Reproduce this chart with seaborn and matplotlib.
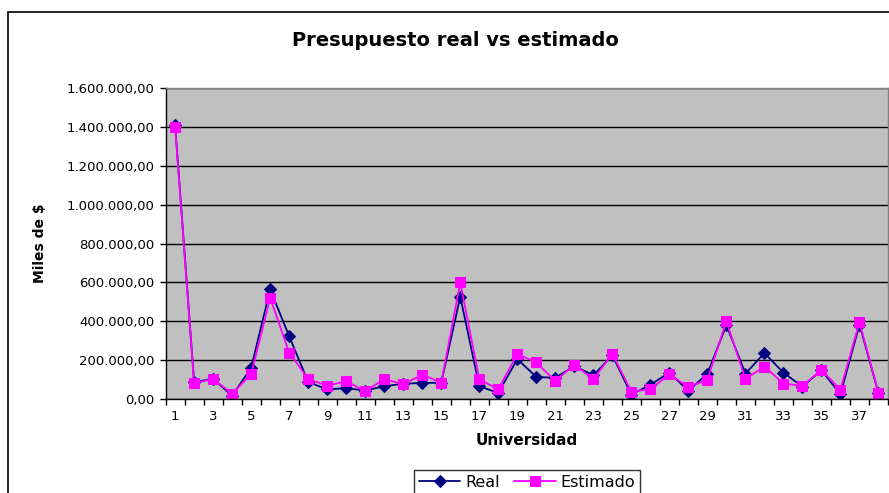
import numpy as np
import pandas as pd
import matplotlib
matplotlib.use("Agg")
import matplotlib.pyplot as plt
import seaborn as sns
from matplotlib.patches import Rectangle
from matplotlib.ticker import FuncFormatter, FixedLocator

universidad = list(range(1, 39))
real = [1409000, 89000, 104000, 19000, 161000, 564000, 324000, 89000, 51000, 57000,
        45000, 67000, 80000, 84000, 85000, 527000, 67000, 33000, 206000, 115000,
        110000, 171000, 123000, 226000, 24000, 75000, 137000, 43000, 132000, 381000,
        132000, 237000, 137000, 65000, 149000, 26000, 384000, 32000]
estimado = [1399000, 83000, 104000, 29000, 129000, 521000, 240000, 104000, 70000, 93000,
            41000, 104000, 77000, 127000, 85000, 600000, 103000, 51000, 233000, 189000,
            94000, 178000, 103000, 233000, 40000, 51000, 129000, 62000, 101000, 401000,
            104000, 168000, 81000, 69000, 151000, 50000, 396000, 32000]
series_names = ["Real", "Estimado"]
x_tick_labels = [str(i) for i in range(1, 39, 2)]
y_ticks = [0, 200000, 400000, 600000, 800000, 1000000, 1200000, 1400000, 1600000]

df = pd.DataFrame({"Universidad": universidad, series_names[0]: real, series_names[1]: estimado})

sns.set_theme(style="white")
plt.rcParams['font.family'] = ['DejaVu Sans']
plt.rcParams['text.color'] = 'black'
plt.rcParams['axes.labelcolor'] = 'black'
plt.rcParams['xtick.color'] = 'black'
plt.rcParams['ytick.color'] = 'black'

fig = plt.figure(figsize=(8.89, 4.93), dpi=100)
ax = fig.add_axes([165.6/889, 1-399.3/493, (888-165.6)/889, (399.3-87.7)/493])
ax.set_facecolor("#C0C0C0")

sns.lineplot(data=df, x="Universidad", y=series_names[0], ax=ax, color="#000080", marker="D",
             markersize=6, markeredgecolor="#000080", linewidth=1.3, label=series_names[0])
sns.lineplot(data=df, x="Universidad", y=series_names[1], ax=ax, color="#FF00FF", marker="s",
             markersize=7, markeredgecolor="#FF00FF", linewidth=1.3, label=series_names[1])

ax.set_xlim(0.5, 38.5)
ax.set_ylim(0, 1600000)
ax.yaxis.set_major_locator(FixedLocator(y_ticks))
ax.grid(axis="y", color="black", linewidth=1)
ax.set_axisbelow(True)

def fmt(v, pos):
    s = f"{int(round(v)):,}".replace(",", ".")
    return s + ",00"
ax.yaxis.set_major_formatter(FuncFormatter(fmt))

ax.set_xticks(range(1, 39, 2))
ax.set_xticklabels(x_tick_labels)
ax.set_xticks(np.arange(0.5, 39, 1), minor=True)
ax.tick_params(axis="x", which="major", length=0, pad=8, labelsize=9.5)
ax.tick_params(axis="x", which="minor", length=4, width=1, color="black", direction="out", bottom=True)
ax.tick_params(axis="y", length=4, width=1, color="black", direction="out", left=True, labelsize=9.5, pad=4)

for s in ["left", "bottom"]:
    ax.spines[s].set_color("black")
    ax.spines[s].set_linewidth(1)
for s in ["top", "right"]:
    ax.spines[s].set_color("#808080")
    ax.spines[s].set_linewidth(1)

ax.set_xlabel("Universidad", fontsize=11, fontweight="bold", labelpad=7)
ax.set_ylabel("Miles de $", fontsize=10, fontweight="bold", va="center")
ax.yaxis.set_label_coords(-0.174, 0.5)

fig.text(455/889, 1-40/493, "Presupuesto real vs estimado", ha="center", va="center",
         fontsize=14, fontweight="bold")

leg = ax.legend(loc="upper center", bbox_to_anchor=(527/889, 1-470/493),
                bbox_transform=fig.transFigure, ncol=2, frameon=True, fancybox=False,
                edgecolor="black", fontsize=11.5, handlelength=2.6, borderpad=0.3,
                borderaxespad=0, columnspacing=0.9, handletextpad=0.3)
leg.get_frame().set_linewidth(1)

fig.patches.append(Rectangle((8/889, -0.2), 1.0, 1.2 - 12/493, transform=fig.transFigure,
                             fill=False, edgecolor="black", linewidth=1.2, clip_on=False))

fig.savefig("out.png", dpi=100)
